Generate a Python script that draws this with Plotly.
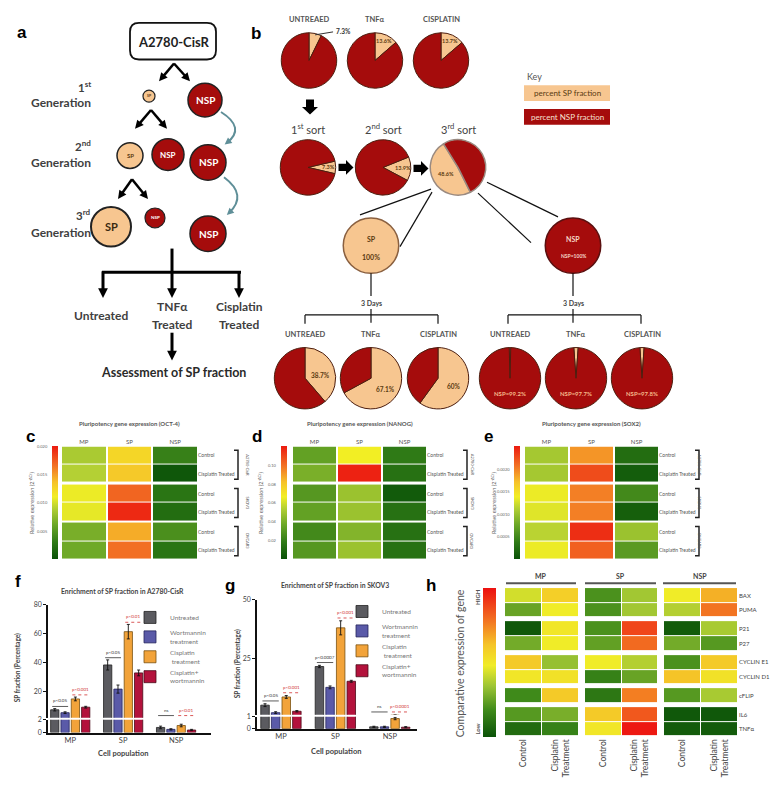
import math
import plotly.graph_objects as go

W, H = 778, 785
def X(px): return px / W
def Y(py): return 1 - py / H

FONT = 'Lato'
TXT = '#3f3f3f'
PEACH = '#f7c690'
NSPRED = '#a50c0c'
EDGE = '#4d1f10'

# ---------------- data ----------------
top_titles = ['UNTREAED', 'TNF\u03b1', 'CISPLATIN']
top_sp_pct = [7.3, 13.6, 13.7]
sort_titles = ['1<sup>st</sup> sort', '2<sup>nd</sup> sort', '3<sup>rd</sup> sort']
sort_sp_pct = [7.3, 13.9, 48.6]
day3_titles = ['UNTREAED', 'TNF\u03b1', 'CISPLATIN']
sp_day3_sp_pct = [38.7, 67.1, 60.0]
nsp_day3_nsp_pct = [99.2, 97.7, 97.8]
sorted_pct = {'SP': 100, 'NSP': 100}

heat_columns = ['MP', 'SP', 'NSP']
heat_rows = ['Control', 'Cisplatin Treated'] * 3
cell_lines = ['A2780-CisR', 'SKOV3', 'OVCAR3']
oct4_expr = [
    [0.0086, 0.0124, 0.0034],
    [0.0090, 0.0132, 0.0004],
    [0.0108, 0.0170, 0.0026],
    [0.0106, 0.0194, 0.0020],
    [0.0066, 0.0144, 0.0044],
    [0.0062, 0.0166, 0.0026],
]
nanog_expr = [
    [0.034, 0.066, 0.018],
    [0.040, 0.118, 0.014],
    [0.030, 0.048, 0.004],
    [0.034, 0.048, 0.014],
    [0.024, 0.042, 0.014],
    [0.030, 0.048, 0.014],
]
sox2_expr = [
    [0.00105, 0.00190, 0.00025],
    [0.00105, 0.00225, 0.00010],
    [0.00135, 0.00200, 0.00050],
    [0.00130, 0.00200, 0.00012],
    [0.00115, 0.00240, 0.00100],
    [0.00135, 0.00215, 0.00065],
]
oct4_ticks = [0.005, 0.010, 0.015, 0.020]
nanog_ticks = [0.02, 0.04, 0.06, 0.08, 0.10]
sox2_ticks = [0.0005, 0.0010, 0.0015, 0.0020]

h_genes = ['BAX', 'PUMA', 'P21', 'P27', 'CYCLIN E1', 'CYCLIN D1', 'cFLIP', 'IL6', 'TNF\u03b1']
h_groups = ['MP', 'SP', 'NSP']
h_conditions = ['Control', 'Cisplatin<br>Treatment']
h_expr = [
    [0.43, 0.58, 0.20, 0.35, 0.48, 0.66],
    [0.25, 0.48, 0.20, 0.35, 0.38, 0.78],
    [0.02, 0.50, 0.20, 0.88, 0.03, 0.36],
    [0.27, 0.48, 0.24, 0.80, 0.27, 0.22],
    [0.60, 0.33, 0.48, 0.38, 0.20, 0.60],
    [0.50, 0.52, 0.15, 0.25, 0.62, 0.52],
    [0.18, 0.60, 0.12, 0.76, 0.22, 0.36],
    [0.22, 0.28, 0.60, 0.84, 0.02, 0.02],
    [0.08, 0.15, 0.50, 0.98, 0.03, 0.03],
]

populations = ['MP', 'SP', 'NSP']
treatments = ['Untreated', 'Wortmannin<br>treatment', 'Cisplatin<br> treatment', 'Cisplatin+<br>wortmannin']
a2780_mean = [[7.5, 38.5, 0.8], [5.5, 21.8, 0.5], [15.0, 61.5, 1.1], [9.3, 33.0, 0.4]]
a2780_err = [[0.8, 3.5, 0.2], [0.6, 2.8, 0.1], [1.3, 5.0, 0.2], [0.6, 2.0, 0.1]]
skov3_mean = [[5.1, 21.6, 0.15], [1.9, 12.7, 0.15], [8.6, 38.1, 0.85], [2.5, 15.3, 0.12]]
skov3_err = [[0.6, 0.5, 0.05], [0.4, 0.6, 0.05], [0.6, 3.0, 0.1], [0.3, 0.4, 0.05]]
a2780_sig_black = ['p<0.05', 'p<0.05', 'ns']
a2780_sig_red = ['p<0.001', 'p<0.01', 'p<0.01']
skov3_sig_black = ['p<0.05', 'p<0.0007', 'ns']
skov3_sig_red = ['p<0.001', 'p<0.001', 'p<0.0001']

# ---------------- helpers ----------------
fig = go.Figure()
shapes, anns = [], []

def T(x, y, s, size, color=TXT, bold=False, angle=0, xa='center', ya='middle', family=FONT):
    anns.append(dict(xref='paper', yref='paper', x=X(x), y=Y(y), text=f'<b>{s}</b>' if bold else s,
                     showarrow=False, textangle=angle, xanchor=xa, yanchor=ya,
                     font=dict(size=size, color=color, family=family)))

def P(px, py):
    return f'{X(px):.5f},{Y(py):.5f}'

def LINE(x0, y0, x1, y1, color='#111', w=1.2):
    shapes.append(dict(type='line', xref='paper', yref='paper', x0=X(x0), y0=Y(y0), x1=X(x1), y1=Y(y1),
                       line=dict(color=color, width=w)))

def CIRCLE(cx, cy, r, fill, edge='#1a1a1a', w=1.5):
    shapes.append(dict(type='circle', xref='paper', yref='paper', x0=X(cx - r), x1=X(cx + r),
                       y0=Y(cy + r), y1=Y(cy - r), fillcolor=fill, line=dict(color=edge, width=w)))

def HEAD(x1, y1, ux, uy, hl, hw, color):
    bx, by = x1 - ux * hl, y1 - uy * hl
    pts = [(x1, y1), (bx - uy * hw / 2, by + ux * hw / 2), (bx + uy * hw / 2, by - ux * hw / 2)]
    shapes.append(dict(type='path', xref='paper', yref='paper',
                       path='M ' + ' L '.join(P(*p) for p in pts) + ' Z', fillcolor=color,
                       line=dict(width=0)))
    return bx, by

def ARROW(x0, y0, x1, y1, w=2.5, color='#000', hl=None, hw=None):
    L = math.hypot(x1 - x0, y1 - y0)
    ux, uy = (x1 - x0) / L, (y1 - y0) / L
    hl = hl or 2.6 * w + 2
    hw = hw or 2.6 * w + 2
    bx, by = HEAD(x1, y1, ux, uy, hl, hw, color)
    LINE(x0, y0, bx + ux, by + uy, color, w)

def BLOCK(cx, cy, direction, L=16, Wd=16):
    s = Wd * 0.5
    hl = L * 0.5
    pts = [(-L / 2, -s / 2), (L / 2 - hl, -s / 2), (L / 2 - hl, -Wd / 2), (L / 2, 0),
           (L / 2 - hl, Wd / 2), (L / 2 - hl, s / 2), (-L / 2, s / 2)]
    if direction == 'down':
        conv = lambda u, v: (cx + v, cy + u)
    else:
        conv = lambda u, v: (cx + u, cy + v)
    path = 'M ' + ' L '.join(P(*conv(u, v)) for u, v in pts) + ' Z'
    shapes.append(dict(type='path', xref='paper', yref='paper', path=path, fillcolor='#000',
                       line=dict(width=0)))

def RRECT(x0, y0, x1, y1, r, edge='#111', w=1.8, fill='white'):
    path = (f'M {P(x0 + r, y0)} L {P(x1 - r, y0)} Q {P(x1, y0)} {P(x1, y0 + r)} '
            f'L {P(x1, y1 - r)} Q {P(x1, y1)} {P(x1 - r, y1)} L {P(x0 + r, y1)} '
            f'Q {P(x0, y1)} {P(x0, y1 - r)} L {P(x0, y0 + r)} Q {P(x0, y0)} {P(x0 + r, y0)} Z')
    shapes.append(dict(type='path', xref='paper', yref='paper', path=path, fillcolor=fill,
                       line=dict(color=edge, width=w)))

def CURVE(x0, y0, cx, cy, x1, y1, color='#5f8f98', w=2):
    shapes.append(dict(type='path', xref='paper', yref='paper',
                       path=f'M {P(x0, y0)} Q {P(cx, cy)} {P(x1, y1)}', line=dict(color=color, width=w)))
    L = math.hypot(x1 - cx, y1 - cy)
    HEAD(x1 + (x1 - cx) / L * 3, y1 + (y1 - cy) / L * 3, (x1 - cx) / L, (y1 - cy) / L, 7, 7, color)

def RECT(x0, y0, x1, y1, fill):
    shapes.append(dict(type='rect', xref='paper', yref='paper', x0=X(x0), x1=X(x1), y0=Y(y1), y1=Y(y0),
                       fillcolor=fill, line=dict(width=0)))

def PIE(cx, cy, r, values, colors, rotation=0, line_color=EDGE, lw=1):
    fig.add_trace(go.Pie(values=values, marker=dict(colors=colors, line=dict(color=line_color, width=lw)),
                         sort=False, direction='clockwise', rotation=rotation, textinfo='none',
                         hoverinfo='skip', showlegend=False,
                         domain=dict(x=[X(cx - r), X(cx + r)], y=[Y(cy + r), Y(cy - r)])))

def slice_point(cx, cy, r, rotation, start_pct, pct, k):
    a = math.radians(rotation + 3.6 * (start_pct + pct / 2))
    return cx + k * r * math.sin(a), cy - k * r * math.cos(a)

# ---------------- panel a ----------------
T(14, 20, 'a', 17, '#000', True, family='Liberation Sans')
RRECT(122, 10, 208, 47, 9)
T(165, 29, 'A2780-CisR', 13, '#222', True)
ARROW(166, 51, 151, 69); ARROW(166, 51, 182, 69)
gen_y = [(74, 90), (134, 151), (204, 222)]
gen_sup = ['1<sup>st</sup>', '2<sup>nd</sup>', '3<sup>rd</sup>']
for (ys, yg), sup in zip(gen_y, gen_sup):
    T(85, ys, sup, 11.5, TXT, True, xa='right')
    T(85, yg, 'Generation', 12, TXT, True, xa='right')
CIRCLE(141, 84, 6, PEACH, '#222', 1.2); T(141, 84, 'SP', 3.5, '#5a3a10', True)
CIRCLE(197, 88, 17, NSPRED, '#222', 1.5); T(197, 88, 'NSP', 10, 'white', True)
ARROW(143, 98, 127, 117); ARROW(143, 98, 159, 117)
CIRCLE(122, 144, 13, PEACH, '#222', 1.5); T(122, 144, 'SP', 6, '#5a3a10', True)
CIRCLE(160, 143, 16, NSPRED, '#222', 1.5); T(160, 143, 'NSP', 8, 'white', True)
CIRCLE(200, 151, 18, NSPRED, '#222', 1.5); T(200, 151, 'NSP', 10, 'white', True)
ARROW(124, 168, 110, 188); ARROW(124, 168, 140, 188)
CIRCLE(103, 216, 20, PEACH, '#222', 2); T(103, 216, 'SP', 11, '#3a2a10', True)
CIRCLE(147, 207, 10, NSPRED, '#222', 1.2); T(147, 207, 'NSP', 4.5, 'white', True)
CIRCLE(200, 223, 18, NSPRED, '#222', 1.5); T(200, 223, 'NSP', 10, 'white', True)
CURVE(213, 100, 238, 116, 219, 131)
CURVE(216, 166, 240, 184, 221, 202)
LINE(164, 238, 164, 262, '#000', 3)
LINE(94, 262, 233, 262, '#000', 3)
for xx in (95, 164, 231):
    ARROW(xx, 261, xx, 288, w=3)
T(93, 306, 'Untreated', 12, TXT, True)
T(164, 297, 'TNF\u03b1', 12, TXT, True); T(164, 315, 'Treated', 12, TXT, True)
T(231, 297, 'Cisplatin', 12, TXT, True); T(231, 315, 'Treated', 12, TXT, True)
ARROW(164, 323, 164, 351, w=3)
T(165, 363, 'Assessment of SP fraction', 12.5, '#2a2a2a', True)

# ---------------- panel b ----------------
T(248, 21, 'b', 17, '#000', True, family='Liberation Sans')
top_cx = [301, 367, 433]
for cx, title, sp in zip(top_cx, top_titles, top_sp_pct):
    PIE(cx, 48, 28, [sp, 100 - sp], [PEACH, NSPRED])
    T(cx, 7, title, 7.5, '#555', True)
x_, y_ = slice_point(301, 48, 28, 0, 0, top_sp_pct[0], 0.95)
LINE(x_, y_, x_ + 18, y_ - 3, '#333', 1)
T(x_ + 19, y_ - 3, f'{top_sp_pct[0]}%', 6.5, '#333', True, xa='left')
for cx, sp in zip(top_cx[1:], top_sp_pct[1:]):
    lx, ly = slice_point(cx, 48, 28, 0, 0, sp, 0.78)
    T(lx, ly, f'{sp}%', 5.5, '#5a3a10', True)
BLOCK(302, 95, 'down', 15, 16)

sort_cx = [300, 375, 450]
sort_center_deg = [90, 93, 241]
for cx, title, sp, cdeg in zip(sort_cx, sort_titles, sort_sp_pct, sort_center_deg):
    rot = cdeg - 3.6 * sp / 2
    PIE(cx, 156, 28, [sp, 100 - sp], [PEACH, NSPRED], rotation=rot,
        line_color='#9a8a80' if sp > 40 else EDGE, lw=1.5 if sp > 40 else 1)
    T(cx, 117, title, 11, '#444')
    k = 0.5 if sp > 40 else 0.72
    lx, ly = slice_point(cx, 156, 28, rot, 0, sp, k)
    T(lx, ly, f'{sp}%', 5.5, '#5a3a10', True)
BLOCK(338, 156, 'right', 15, 15)
BLOCK(413, 157, 'right', 15, 15)

T(517, 64, 'Key', 9, '#555', xa='left')
RECT(516, 73, 602, 89, PEACH)
T(559, 81, 'percent SP fraction', 8, '#5a3a10')
RECT(516, 97, 602, 113, NSPRED)
T(559, 105, 'percent NSP fraction', 8, '#f6e0d0')

LINE(423, 178, 352, 204); LINE(424, 181, 392, 236)
LINE(479, 171, 550, 206); LINE(470, 182, 523, 232)

PIE(363, 235, 28, [sorted_pct['SP']], [PEACH], line_color='#8a6040', lw=1.5)
T(363, 228, 'SP', 7, '#5a3a10', True); T(363, 247, f"{sorted_pct['SP']}%", 7, '#5a3a10', True)
PIE(565, 235, 28, [sorted_pct['NSP']], [NSPRED], line_color='#5a1010', lw=1.5)
T(565, 228, 'NSP', 7, '#f6d8c8', True); T(565, 246, f"NSP={sorted_pct['NSP']}%", 5, '#f6d8c8', True)

for mid, left, right in ((363, 297, 430), (565, 500, 633)):
    LINE(mid, 263, mid, 286)
    T(mid, 293, '3 Days', 7, '#444', True)
    LINE(mid, 299, mid, 313)
    LINE(left, 305, right, 305)
    LINE(left, 305, left, 314); LINE(right, 305, right, 314)

left_cx = [297, 363, 430]
right_cx = [502, 568, 634]
for cx, title, sp in zip(left_cx, day3_titles, sp_day3_sp_pct):
    T(cx, 325, title, 7.5, '#555', True)
    PIE(cx, 369, 31, [sp, 100 - sp], [PEACH, NSPRED])
    lx, ly = slice_point(cx, 369, 31, 0, 0, sp, 0.55)
    T(lx, ly + 3, f'{sp:g}%', 6.5, '#5a3a10', True)
for cx, title, nsp in zip(right_cx, day3_titles, nsp_day3_nsp_pct):
    T(cx, 325, title, 7.5, '#555', True)
    sp = round(100 - nsp, 1)
    PIE(cx, 369, 31, [sp, nsp], [PEACH, NSPRED], rotation=-3.6 * sp / 2)
    T(cx, 384, f'NSP={nsp}%', 6, '#f5b98a', True)

# ---------------- heatmaps c, d, e, h ----------------
def build_edges(groups, gap):
    edges, centers, flags, pos = [0.0], [], [], 0.0
    for gi, n in enumerate(groups):
        for _ in range(n):
            centers.append(pos + 0.5)
            pos += 1
            edges.append(pos)
            flags.append(False)
        if gi < len(groups) - 1:
            pos += gap
            edges.append(pos)
            flags.append(True)
    return edges, centers, flags

layout_axes = {}

def add_heat(values, xi, yi, x0, x1, y0, y1, col_groups, row_groups, col_gap, row_gap, cax,
             xticks, yticks, xside='top', xfont=6, yfont=5, xangle=0, xgap=0, ygap=1):
    xe, xc, xf = build_edges(col_groups, col_gap)
    ye, yc, yf = build_edges(row_groups, row_gap)
    z, it = [], iter(values)
    for sp in yf:
        if sp:
            z.append([None] * len(xf))
            continue
        ri = iter(next(it))
        z.append([None if cs else next(ri) for cs in xf])
    xn = f'x{xi}'; yn = f'y{yi}'
    fig.add_trace(go.Heatmap(z=z, x=xe, y=ye, coloraxis=cax, xgap=xgap, ygap=ygap, hoverinfo='skip',
                             xaxis=xn, yaxis=yn))
    layout_axes[f'xaxis{xi}'] = dict(domain=[X(x0), X(x1)], range=[xe[0], xe[-1]], anchor=yn, side=xside,
                                     tickvals=xc, ticktext=xticks, ticks='', showgrid=False, zeroline=False,
                                     showline=False, tickangle=xangle,
                                     tickfont=dict(size=xfont, color='#555', family=FONT))
    layout_axes[f'yaxis{yi}'] = dict(domain=[Y(y1), Y(y0)], range=[ye[-1], ye[0]], anchor=xn, side='right',
                                     tickvals=yc, ticktext=yticks, ticks='', showgrid=False, zeroline=False,
                                     showline=False, tickfont=dict(size=yfont, color='#555', family=FONT))
    return yc, yn

CS_P = [[0, '#0a5208'], [0.15, '#2f7a16'], [0.3, '#6aa626'], [0.45, '#b4d034'], [0.55, '#f2ee24'],
        [0.68, '#f6c22a'], [0.82, '#f27424'], [1, '#ec1a10']]
CS_H = [[0, '#0a5208'], [0.18, '#3f8a1a'], [0.34, '#9cc434'], [0.48, '#f0ec28'], [0.62, '#f5c428'],
        [0.8, '#f26a20'], [1, '#ec1010']]

def cbar(x, ytop, ybot, thick):
    return dict(x=X(x), xanchor='left', y=Y((ytop + ybot) / 2), yanchor='middle', len=(ybot - ytop) / H,
                lenmode='fraction', thickness=thick, thicknessmode='pixels', showticklabels=False, ticks='',
                outlinewidth=0, xpad=0, ypad=0)

heat_specs = [
    ('c', oct4_expr, 'OCT-4', 3, 5, 54, 189, 44, 'coloraxis', 0.020, oct4_ticks, '.3f', 22),
    ('d', nanog_expr, 'NANOG', 4, 6, 285, 418, 273, 'coloraxis2', 0.12, nanog_ticks, '.2f', 249),
    ('e', sox2_expr, 'SOX2', 5, 7, 517, 650, 506, 'coloraxis3', 0.0025, sox2_ticks, '.4f', 481),
]
coloraxes = {}
for letter, vals, gene, xi, yi, x0, x1, cbx, cax, vmax, ticks, fmt, lx in heat_specs:
    yc, yn = add_heat(vals, xi, yi, x0, x1, 438, 552, [1, 1, 1], [2, 2, 2], 0.05, 0.1, cax,
                      heat_columns, heat_rows)
    coloraxes[cax] = dict(colorscale=CS_P, cmin=0, cmax=vmax, colorbar=cbar(cbx, 438, 552, 6))
    T(lx, 428, letter, 17, '#000', True, family='Liberation Sans')
    T((x0 + x1) / 2, 415, f'Pluripotency gene expression ({gene})', 6, '#555', True)
    T(cbx - 20, 495, 'Relative expression (2<sup>-\u0394Ct</sup>)', 5.5, '#666', angle=-90)
    for v in ticks:
        py = 552 - v / vmax * (552 - 438)
        T(cbx - 2, py, format(v, fmt), 4, '#666', xa='right')
    bx = x1 + 41
    for g, name in enumerate(cell_lines):
        t0 = yc[2 * g] - 0.3
        t1 = yc[2 * g + 1] + 0.3
        shapes.append(dict(type='path', xref='paper', yref=yn,
                           path=f'M {X(bx - 4):.5f},{t0} L {X(bx):.5f},{t0} L {X(bx):.5f},{t1} L {X(bx - 4):.5f},{t1}',
                           line=dict(color='#222', width=1.5)))
        anns.append(dict(xref='paper', yref=yn, x=X(bx + 5), y=(t0 + t1) / 2, text=name, showarrow=False,
                         textangle=90, font=dict(size=4, color='#555', family=FONT)))

# panel h
yc_h, yn_h = add_heat(h_expr, 6, 8, 497, 730, 581, 731, [2, 2, 2], [2, 2, 2, 1, 2], 0.15, 0.27, 'coloraxis4',
                      h_conditions * 3, h_genes, xside='bottom', xfont=8.5, yfont=6, xangle=-90, xgap=1, ygap=1)
layout_axes['yaxis8']['tickfont'] = dict(size=6, color='#444', family=FONT)
layout_axes['xaxis6']['tickfont'] = dict(size=8.5, color='#444', family=FONT)
coloraxes['coloraxis4'] = dict(colorscale=CS_H, cmin=0, cmax=1, colorbar=cbar(475, 581, 732, 13))
T(423, 578, 'h', 17, '#000', True, family='Liberation Sans')
for name, xc, (lx0, lx1) in zip(h_groups, (533, 612, 692), ((498, 568), (577, 648), (655, 728))):
    T(xc, 569, name, 7, '#444', True)
    LINE(lx0, 576, lx1, 576, '#555', 2)
T(470, 590, 'HIGH', 6, '#555', True, angle=-90)
T(470, 724, 'Low', 6, '#555', True, angle=-90)
T(452, 657, 'Comparative expression of gene', 10.5, '#555', angle=-90)

# ---------------- bar charts f, g ----------------
bar_colors = ['#5b5b60', '#5a5aa8', '#f2a33a', '#b3123c']
bar_edges = ['#222222', '#25255a', '#7a5010', '#4a0a18']

def add_bars(means, errs, xn, y_up, y_lo, legend):
    for i, (name, m, e) in enumerate(zip(treatments, means, errs)):
        for yn, show in ((y_up, True), (y_lo, False)):
            fig.add_trace(go.Bar(x=populations, y=m, name=name, xaxis=xn, yaxis=yn, legend=legend,
                                 showlegend=show, marker=dict(color=bar_colors[i],
                                 line=dict(color=bar_edges[i], width=0.8)),
                                 error_y=dict(type='data', array=e, color='#111', thickness=0.9, width=1.5),
                                 hoverinfo='skip'))

def bar_axes(xi, yu, yl, x0, x1, xr, up_px, lo_px, up_range, lo_range, up_ticks, lo_ticks):
    ax_style = dict(showline=True, linecolor='#111', linewidth=1.5, ticks='outside', ticklen=3,
                    tickcolor='#111', showgrid=False, zeroline=False,
                    tickfont=dict(size=7, color='#444', family=FONT))
    xk = f'x{xi}' if xi else 'x'
    layout_axes[f'xaxis{xi}'] = dict(domain=[X(x0), X(x1)], range=xr, anchor=f'y{yl}', showline=True,
                                     linecolor='#111', linewidth=1.5, ticks='', showgrid=False,
                                     tickfont=dict(size=7.5, color='#444', family=FONT))
    layout_axes[f'yaxis{yu}'] = dict(domain=[Y(up_px[1]), Y(up_px[0])], range=up_range, tickvals=up_ticks,
                                     anchor=xk, **ax_style)
    layout_axes[f'yaxis{yl}'] = dict(domain=[Y(lo_px[1]), Y(lo_px[0])], range=lo_range, tickvals=lo_ticks,
                                     anchor=xk, **ax_style)

bar_axes('', '', 2, 40, 203, [-0.42, 2.66], (598, 712), (714, 727), [2, 80], [0, 2], [20, 40, 60, 80], [0, 2])
bar_axes(2, 3, 4, 249, 409, [-0.44, 2.5], (593, 709), (711, 723), [1, 50], [0, 1], [25, 50], [0, 1])
add_bars(a2780_mean, a2780_err, 'x', 'y', 'y2', 'legend')
add_bars(skov3_mean, skov3_err, 'x2', 'y3', 'y4', 'legend2')

def add_sigs(means, errs, blacks, reds, xn, yn, brk, pad):
    for i in range(3):
        tops = [means[k][i] + errs[k][i] for k in range(4)]
        for side, txt, col in ((0, blacks[i], '#333'), (1, reds[i], '#d03030')):
            y = max(max(tops[2 * side:2 * side + 2]), brk) + pad
            xc = i - 0.19 if side == 0 else i + 0.19
            anns.append(dict(xref=xn, yref=yn, x=xc, y=y, text=txt, showarrow=False, yanchor='bottom',
                             yshift=1, font=dict(size=4.5, color=col, family=FONT)))
            shapes.append(dict(type='line', xref=xn, yref=yn, x0=xc - 0.15, x1=xc + 0.15, y0=y, y1=y,
                               line=dict(color=col, width=0.8, dash='solid' if side == 0 else 'dot')))

add_sigs(a2780_mean, a2780_err, a2780_sig_black, a2780_sig_red, 'x', 'y', 2, 1.5)
add_sigs(skov3_mean, skov3_err, skov3_sig_black, skov3_sig_red, 'x2', 'y3', 1, 1.2)

T(10, 574, 'f', 17, '#000', True, family='Liberation Sans')
T(222, 578, 'g', 17, '#000', True, family='Liberation Sans')
T(114, 584, 'Enrichment of SP fraction in A2780-CisR', 6.8, '#444', True)
T(327, 578, 'Enrichment of SP fraction in SKOV3', 6.8, '#444', True)
T(9, 662, 'SP fraction (Percentage)', 6.5, '#444', True, angle=-90)
T(229, 658, 'SP fraction (Percentage)', 6.5, '#444', True, angle=-90)
T(115, 748, 'Cell population', 7.5, '#444', True)
T(328, 746, 'Cell population', 7.5, '#444', True)

legend_style = dict(xanchor='left', yanchor='top', bgcolor='rgba(0,0,0,0)', tracegroupgap=0,
                    itemwidth=30, font=dict(size=6.5, color='#777', family=FONT))

fig.update_layout(
    width=W, height=H, margin=dict(l=0, r=0, t=0, b=0), paper_bgcolor='white', plot_bgcolor='white',
    barmode='group', bargap=0.22, bargroupgap=0.2, showlegend=True,
    legend=dict(x=X(122), y=Y(596), **legend_style),
    legend2=dict(x=X(334), y=Y(590), **legend_style),
    shapes=shapes, annotations=anns, **coloraxes, **layout_axes,
)
fig.write_html('out.html')
